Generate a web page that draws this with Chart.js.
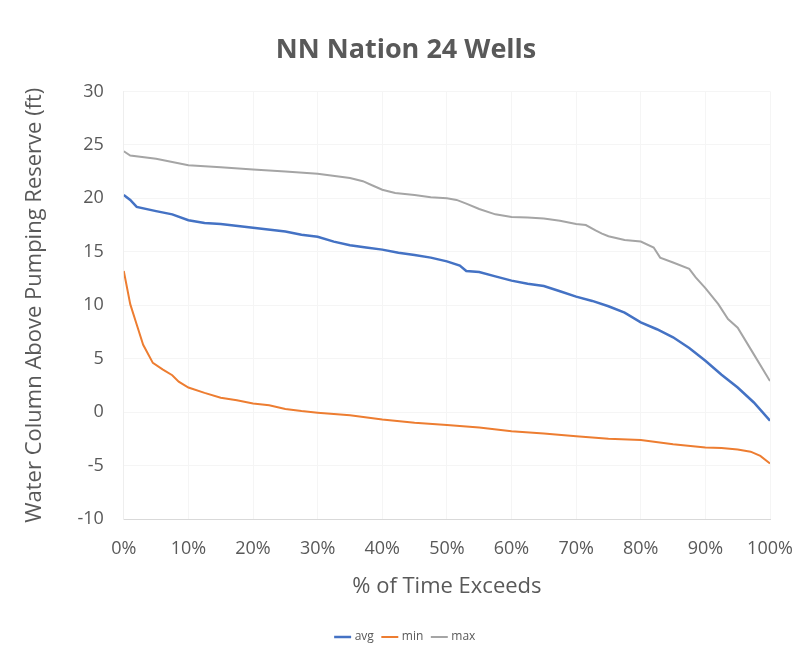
<!DOCTYPE html>
<html>
<head>
<meta charset="utf-8">
<script src="https://cdn.jsdelivr.net/npm/chart.js@4.4.0/dist/chart.umd.min.js"></script>
<style>
html,body{margin:0;padding:0;background:#fff;}
#wrap{width:806px;height:646px;position:relative;}
</style>
</head>
<body>
<div id="wrap"><canvas id="c" width="806" height="646"></canvas></div>
<script>
const chartTitle = "NN Nation 24 Wells";
const xTitle = "% of Time Exceeds";
const yTitle = "Water Column Above Pumping Reserve (ft)";

const avgPct = [0,1,2,5,7.5,10,12.5,15,20,25,27.5,30,32.5,35,37.5,40,42.5,45,47.5,50,52,53,55,57.5,60,62.5,65,67.5,70,72.5,75,77.5,80,82.5,85,87.5,90,92.5,95,97.5,100];
const avgVal = [20.3,19.85,19.2,18.8,18.5,17.95,17.7,17.6,17.25,16.9,16.6,16.4,15.95,15.6,15.4,15.2,14.9,14.7,14.45,14.1,13.7,13.2,13.1,12.7,12.3,12.0,11.8,11.3,10.8,10.4,9.9,9.3,8.4,7.75,7.0,6.0,4.8,3.5,2.3,0.9,-0.8];

const minPct = [0,1,2,3,4.5,6,7.5,8.5,10,12.5,15,17.5,20,22.5,25,27.5,30,35,40,45,50,55,60,65,70,75,80,85,90,92.5,95,97,98.5,100];
const minVal = [13.2,10.1,8.2,6.3,4.6,4.0,3.45,2.85,2.3,1.8,1.35,1.1,0.8,0.65,0.3,0.1,-0.05,-0.3,-0.7,-1.0,-1.2,-1.45,-1.8,-2.0,-2.25,-2.5,-2.6,-3.0,-3.3,-3.35,-3.5,-3.7,-4.1,-4.8];

const maxPct = [0,1,5,10,15,20,25,30,35,37,38.5,40,42,45,47.5,50,51.5,53,55,57.5,60,62.5,65,67.5,70,71.5,73,74,75,77.5,80,82,83,85,87.5,88.5,90,92,93.5,95,97.5,100];
const maxVal = [24.4,24.0,23.7,23.1,22.9,22.7,22.5,22.3,21.9,21.6,21.2,20.8,20.5,20.3,20.1,20.0,19.85,19.5,19.0,18.5,18.25,18.2,18.1,17.9,17.6,17.5,17.0,16.7,16.45,16.1,15.95,15.4,14.45,14.0,13.4,12.6,11.6,10.1,8.7,7.9,5.4,2.9];

const seriesNames = ["avg","min","max"];
const seriesColors = ["#4472C4","#ED7D31","#A5A5A5"];

const pts = (xs, ys) => xs.map((x,i)=>({x:x, y:ys[i]}));
const FONT = "'Open Sans', 'Liberation Sans', sans-serif";
const TXT = "#595959";

new Chart(document.getElementById('c'), {
  type: 'line',
  data: {
    datasets: [
      {label: seriesNames[0], data: pts(avgPct, avgVal), borderColor: seriesColors[0], backgroundColor: seriesColors[0], borderWidth: 2.5, pointRadius: 0, tension: 0},
      {label: seriesNames[1], data: pts(minPct, minVal), borderColor: seriesColors[1], backgroundColor: seriesColors[1], borderWidth: 2, pointRadius: 0, tension: 0},
      {label: seriesNames[2], data: pts(maxPct, maxVal), borderColor: seriesColors[2], backgroundColor: seriesColors[2], borderWidth: 2, pointRadius: 0, tension: 0}
    ]
  },
  options: {
    responsive: false,
    animation: false,
    layout: {padding: {left: 16, right: 10, top: 20, bottom: -7}},
    plugins: {
      title: {display: true, text: chartTitle, color: TXT, font: {family: FONT, size: 27, weight: 'bold'}, padding: {top: 14, bottom: 25}},
      legend: {position: 'bottom', labels: {color: TXT, font: {family: FONT, size: 12}, usePointStyle: true, pointStyle: 'line', boxWidth: 30, padding: 10}},
      tooltip: {enabled: false}
    },
    scales: {
      x: {
        type: 'linear', min: 0, max: 100,
        afterFit: (scale) => { scale.paddingRight = 36; },
        ticks: {stepSize: 10, color: TXT, font: {family: FONT, size: 18}, padding: 19, callback: v => v + '%'},
        grid: {color: '#f5f5f5', drawTicks: false},
        border: {color: '#d9d9d9', width: 1},
        title: {display: true, text: xTitle, color: TXT, font: {family: FONT, size: 22}, padding: {top: -5, bottom: 21}}
      },
      y: {
        min: -10, max: 30,
        ticks: {stepSize: 5, color: TXT, font: {family: FONT, size: 18}, padding: 20},
        grid: {color: '#f5f5f5', drawTicks: false},
        border: {color: '#eeeeee', width: 1},
        title: {display: true, text: yTitle, color: TXT, font: {family: FONT, size: 22}, padding: {top: 6, bottom: 9}}
      }
    }
  }
});
</script>
</body>
</html>
